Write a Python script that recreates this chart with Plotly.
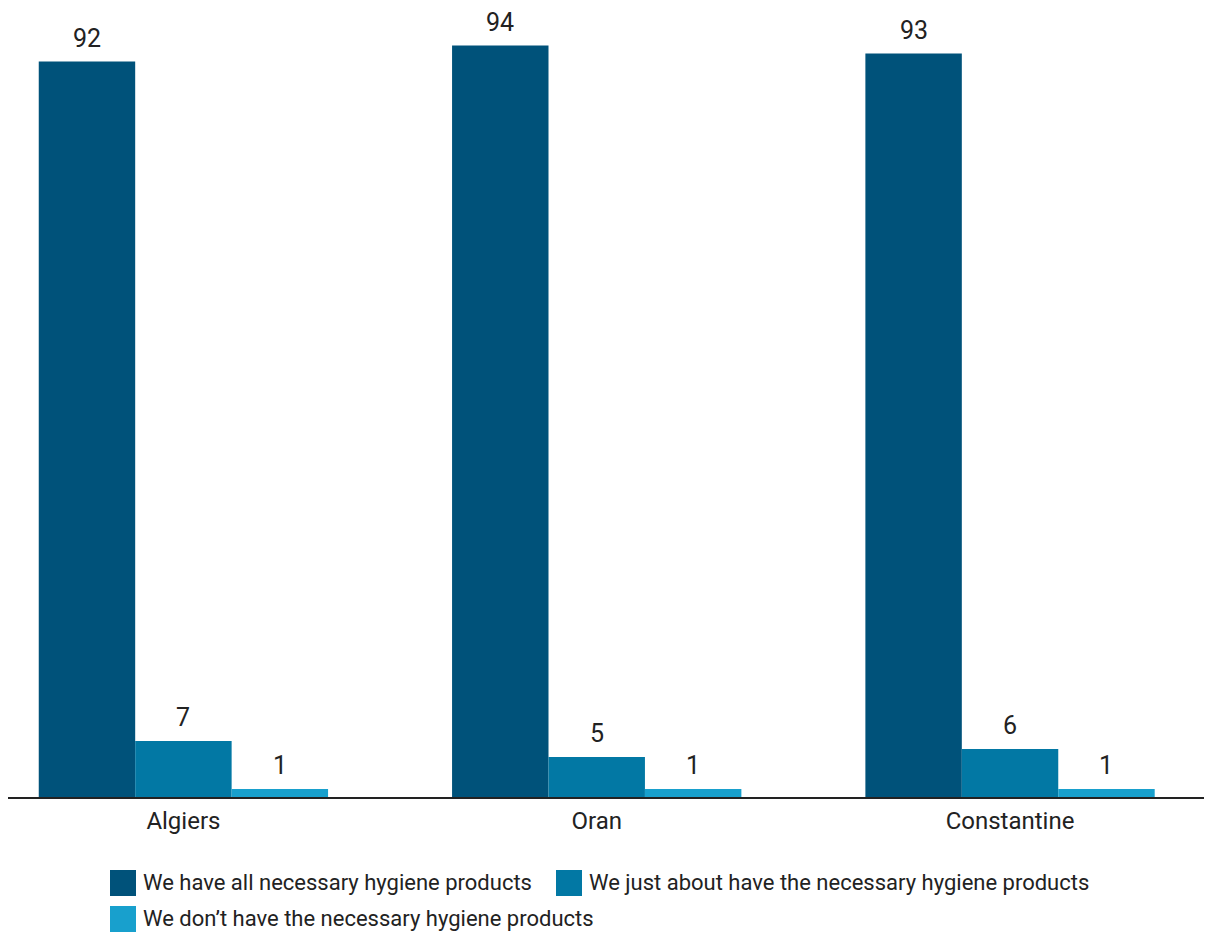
import plotly.graph_objects as go

cities = ["Algiers", "Oran", "Constantine"]
series_names = [
    "We have all necessary hygiene products",
    "We just about have the necessary hygiene products",
    "We don’t have the necessary hygiene products",
]
have_all = [92, 94, 93]
just_about = [7, 5, 6]
dont_have = [1, 1, 1]
colors = ["#00527a", "#0278a4", "#18a0cd"]

W, H = 1212, 932
PLOT_BOTTOM = 789  # figure px
BARGAP = 0.3

fig = go.Figure()
all_series = [have_all, just_about, dont_have]
n = len(all_series)
for k, (name, vals, col) in enumerate(zip(series_names, all_series, colors)):
    fig.add_trace(go.Bar(
        x=cities, y=vals, name=name, marker_color=col, marker_line_width=0,
        showlegend=False, cliponaxis=False,
    ))
    off = (k - (n - 1) / 2) * (1 - BARGAP) / n
    for i, v in enumerate(vals):
        fig.add_annotation(x=i + off, y=v, xref="x", yref="y", text=str(v),
                           showarrow=False, yanchor="bottom", yshift=7,
                           font=dict(size=25, color="#222222", family="Roboto"))

# custom legend (large square swatches)
def px_x(x):
    return x / W
def px_y(y):
    return (PLOT_BOTTOM - y) / PLOT_BOTTOM

legend_items = [(102, 862), (548, 862), (102, 898)]
for (lx, ly), name, col in zip(legend_items, series_names, colors):
    fig.add_shape(type="rect", xref="paper", yref="paper",
                  x0=px_x(lx), x1=px_x(lx + 26), y0=px_y(ly + 26), y1=px_y(ly),
                  fillcolor=col, line_width=0)
    fig.add_annotation(xref="paper", yref="paper", x=px_x(lx + 31), y=px_y(ly + 12),
                       xanchor="left", yanchor="middle", text=name, showarrow=False,
                       font=dict(size=22, color="#222222", family="Roboto"))

fig.update_layout(
    width=W, height=H,
    margin=dict(l=0, r=0, t=0, b=H - PLOT_BOTTOM),
    paper_bgcolor="white", plot_bgcolor="white",
    barmode="group", bargap=BARGAP, bargroupgap=0,
    font=dict(family="Roboto", size=22, color="#222222"),
    showlegend=False,
)
fig.update_xaxes(range=[-0.4244, 2.508], showline=True, linecolor="#222222", linewidth=2,
                 ticks="", tickfont=dict(size=24, color="#222222"), showgrid=False,
                 ticklabelstandoff=1)
fig.update_yaxes(range=[0, 98.7], visible=False, showgrid=False)

fig.write_html("out.html")
